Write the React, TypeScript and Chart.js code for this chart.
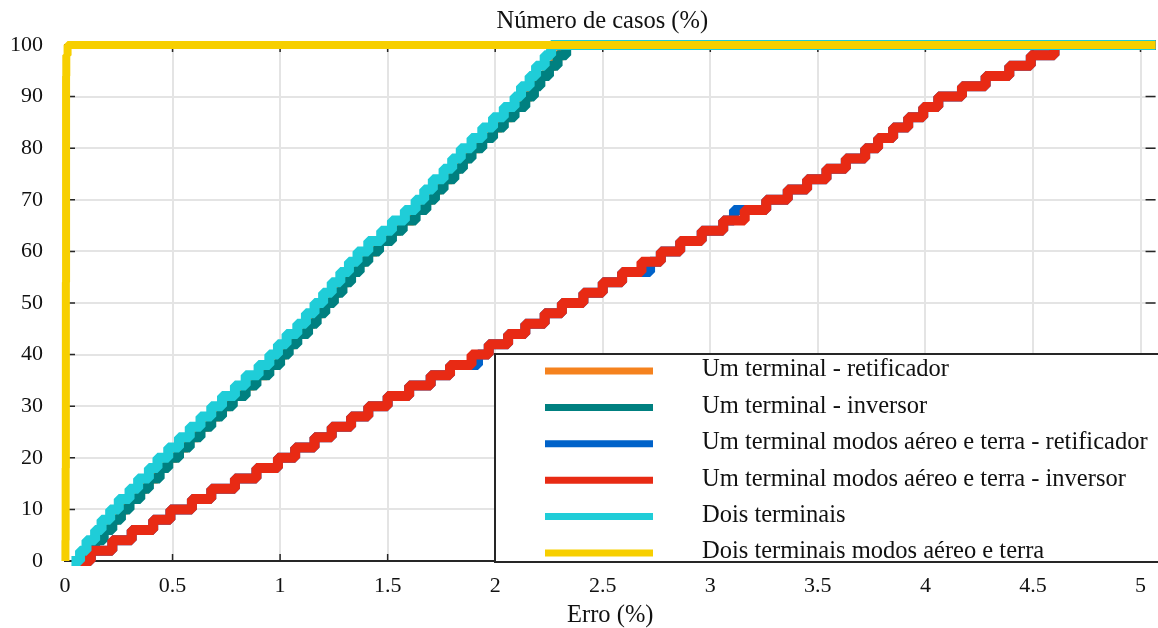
import React, { useEffect, useRef } from "react";
import { Chart, registerables } from "chart.js";

Chart.register(...registerables);

// Cumulative share of cases (%) for each sorted error
const CASES_PCT = [
  0, 2, 4, 6, 8, 10, 12, 14, 16, 18, 20, 22, 24, 26, 28, 30, 32, 34, 36, 38, 40,
  42, 44, 46, 48, 50, 52, 54, 56, 58, 60, 62, 64, 66, 68, 70, 72, 74, 76, 78, 80,
  82, 84, 86, 88, 90, 92, 94, 96, 98, 100,
];

// Errors (%) per configuration
const ERR_UM_RET = [
  0.04, 0.09, 0.13, 0.17, 0.21, 0.25, 0.29, 0.34, 0.38, 0.43, 0.47, 0.52, 0.57,
  0.62, 0.67, 0.72, 0.77, 0.83, 0.88, 0.94, 0.99, 1.03, 1.07, 1.12, 1.16, 1.2,
  1.24, 1.28, 1.32, 1.36, 1.4, 1.45, 1.51, 1.56, 1.62, 1.67, 1.71, 1.75, 1.8,
  1.84, 1.88, 1.93, 1.98, 2.03, 2.08, 2.13, 2.17, 2.2, 2.24, 2.28, 2.32,
];
const ERR_UM_INV = [
  0.05, 0.1, 0.14, 0.18, 0.22, 0.26, 0.3, 0.35, 0.39, 0.44, 0.48, 0.53, 0.58,
  0.63, 0.68, 0.73, 0.78, 0.84, 0.89, 0.95, 1.0, 1.04, 1.08, 1.13, 1.17, 1.21,
  1.25, 1.29, 1.33, 1.37, 1.41, 1.46, 1.52, 1.57, 1.63, 1.68, 1.72, 1.76, 1.81,
  1.85, 1.89, 1.94, 1.99, 2.04, 2.09, 2.14, 2.18, 2.21, 2.25, 2.29, 2.33,
];
const ERR_UM_AT_RET = [
  0.04, 0.12, 0.22, 0.31, 0.41, 0.49, 0.59, 0.68, 0.79, 0.89, 0.99, 1.07, 1.16,
  1.24, 1.33, 1.41, 1.5, 1.6, 1.7, 1.79, 1.92, 1.97, 2.06, 2.14, 2.23, 2.31,
  2.41, 2.5, 2.59, 2.72, 2.77, 2.86, 2.96, 3.06, 3.11, 3.26, 3.36, 3.45, 3.54,
  3.63, 3.72, 3.78, 3.85, 3.92, 3.99, 4.06, 4.17, 4.28, 4.39, 4.49, 4.6,
];
const ERR_UM_AT_INV = [
  0.04, 0.12, 0.22, 0.31, 0.41, 0.49, 0.59, 0.68, 0.79, 0.89, 0.99, 1.07, 1.16,
  1.24, 1.33, 1.41, 1.5, 1.6, 1.7, 1.79, 1.89, 1.97, 2.06, 2.14, 2.23, 2.31,
  2.41, 2.5, 2.59, 2.68, 2.77, 2.86, 2.96, 3.06, 3.16, 3.26, 3.36, 3.45, 3.54,
  3.63, 3.72, 3.78, 3.85, 3.92, 3.99, 4.06, 4.17, 4.28, 4.39, 4.49, 4.6,
];
const ERR_DOIS = [
  0.03, 0.07, 0.1, 0.14, 0.17, 0.21, 0.25, 0.3, 0.34, 0.39, 0.43, 0.48, 0.53,
  0.58, 0.63, 0.68, 0.73, 0.79, 0.84, 0.9, 0.95, 0.99, 1.03, 1.08, 1.12, 1.16,
  1.2, 1.24, 1.28, 1.32, 1.36, 1.41, 1.47, 1.52, 1.58, 1.63, 1.67, 1.71, 1.76,
  1.8, 1.84, 1.89, 1.94, 1.99, 2.04, 2.09, 2.12, 2.16, 2.19, 2.23, 2.26,
];
const ERR_DOIS_AT = [
  0.002, 0.002, 0.002, 0.003, 0.003, 0.003, 0.003, 0.003, 0.003, 0.003, 0.004,
  0.004, 0.004, 0.004, 0.004, 0.004, 0.004, 0.004, 0.004, 0.004, 0.004, 0.004,
  0.004, 0.004, 0.004, 0.004, 0.004, 0.004, 0.005, 0.005, 0.005, 0.005, 0.005,
  0.005, 0.005, 0.005, 0.005, 0.005, 0.005, 0.005, 0.005, 0.005, 0.005, 0.005,
  0.005, 0.005, 0.005, 0.005, 0.006, 0.006, 0.012,
];

const SERIES_LABELS = [
  "Um terminal - retificador",
  "Um terminal - inversor",
  "Um terminal modos aéreo e terra - retificador",
  "Um terminal modos aéreo e terra - inversor",
  "Dois terminais",
  "Dois terminais modos aéreo e terra",
];
const SERIES_ERRORS = [ERR_UM_RET, ERR_UM_INV, ERR_UM_AT_RET, ERR_UM_AT_INV, ERR_DOIS, ERR_DOIS_AT];
const SERIES_COLORS = ["#F5821E", "#008080", "#0062C9", "#E82A14", "#1FCDD8", "#F7CF00"];
const SERIES_WIDTHS = [10, 10, 10, 10, 10, 8];

const X_TICKS = [0, 0.5, 1, 1.5, 2, 2.5, 3, 3.5, 4, 4.5, 5];
const X_TICK_LABELS = ["0", "0.5", "1", "1.5", "2", "2.5", "3", "3.5", "4", "4.5", "5"];
const Y_TICKS = [0, 10, 20, 30, 40, 50, 60, 70, 80, 90, 100];
const X_MAX = 5.07;
const Y_MAX = 100;

const TITLE = "Número de casos (%)";
const X_TITLE = "Erro (%)";

const FONT_FAMILY = "'Liberation Serif', 'DejaVu Serif', serif";
const TICK_FONT_SIZE = 22;
const TEXT_FONT_SIZE = 24.5;
const TEXT_COLOR = "#111111";
const AXIS_COLOR = "#262626";
const GRID_COLOR = "#e4e4e4";

const W = 1158;
const H = 628;

const framePlugin = {
  id: "frameTicks",
  beforeDatasetsDraw(chart: any) {
    const { ctx, chartArea: ca, scales } = chart;
    const xs = scales.x;
    const ys = scales.y;
    ctx.save();
    ctx.strokeStyle = AXIS_COLOR;
    ctx.lineWidth = 1.5;
    ctx.beginPath();
    for (const v of X_TICKS) {
      const px = xs.getPixelForValue(v);
      ctx.moveTo(px, ca.bottom);
      ctx.lineTo(px, ca.bottom - 7);
      ctx.moveTo(px, ca.top);
      ctx.lineTo(px, ca.top + 7);
    }
    for (const v of Y_TICKS) {
      const py = ys.getPixelForValue(v);
      ctx.moveTo(ca.left, py);
      ctx.lineTo(ca.left + 10, py);
      ctx.moveTo(ca.right, py);
      ctx.lineTo(ca.right - 10, py);
    }
    ctx.stroke();
    ctx.lineWidth = 2;
    ctx.beginPath();
    ctx.moveTo(ca.left, ca.top);
    ctx.lineTo(ca.right, ca.top);
    ctx.stroke();
    ctx.restore();
  },
  afterDraw(chart: any) {
    const { ctx, chartArea: ca } = chart;
    ctx.save();
    ctx.fillStyle = TEXT_COLOR;
    ctx.font = `${TEXT_FONT_SIZE}px ${FONT_FAMILY}`;
    ctx.textAlign = "center";
    ctx.textBaseline = "middle";
    ctx.fillText(TITLE, (ca.left + ca.right) / 2 - 8, ca.top - 23);
    ctx.restore();
  },
};

const legendPlugin = {
  id: "boxLegend",
  afterDraw(chart: any) {
    const { ctx, chartArea: ca } = chart;
    const left = 495;
    const top = 354;
    const right = ca.right + 10;
    const bottom = ca.bottom + 1;
    ctx.save();
    ctx.fillStyle = "#ffffff";
    ctx.fillRect(left, top, right - left, bottom - top);
    ctx.strokeStyle = AXIS_COLOR;
    ctx.lineWidth = 2;
    ctx.strokeRect(left, top, right - left, bottom - top);
    ctx.font = `${TEXT_FONT_SIZE}px ${FONT_FAMILY}`;
    ctx.textAlign = "left";
    ctx.textBaseline = "middle";
    chart.data.datasets.forEach((ds: any, i: number) => {
      const yy = top + 17 + i * 36.4;
      ctx.strokeStyle = ds.borderColor;
      ctx.lineWidth = 7;
      ctx.lineCap = "butt";
      ctx.beginPath();
      ctx.moveTo(545, yy);
      ctx.lineTo(653, yy);
      ctx.stroke();
      ctx.fillStyle = TEXT_COLOR;
      ctx.fillText(ds.label, 702, yy - 1);
    });
    ctx.restore();
  },
};

export default function App() {
  const ref = useRef<HTMLCanvasElement | null>(null);

  useEffect(() => {
    if (!ref.current) return;
    const datasets = SERIES_LABELS.map((label, i) => {
      const pts = SERIES_ERRORS[i].map((e, k) => ({ x: e, y: CASES_PCT[k] }));
      pts.push({ x: X_MAX, y: Y_MAX });
      return {
        label,
        data: pts,
        borderColor: SERIES_COLORS[i],
        backgroundColor: SERIES_COLORS[i],
        borderWidth: SERIES_WIDTHS[i],
        pointRadius: 0,
        stepped: "before" as const,
        fill: false,
        borderJoinStyle: "bevel" as const,
        clip: false as any,
        order: SERIES_LABELS.length - i,
      };
    });

    const chart = new Chart(ref.current, {
      type: "line",
      data: { datasets },
      plugins: [framePlugin, legendPlugin],
      options: {
        animation: false,
        responsive: false,
        devicePixelRatio: 1,
        layout: { padding: { top: 45, left: 0, right: 0, bottom: 0 } },
        plugins: {
          legend: { display: false },
          tooltip: { enabled: false },
          title: { display: false },
        },
        scales: {
          x: {
            type: "linear",
            min: 0,
            max: X_MAX,
            afterFit: (s: any) => {
              s.height = 67;
            },
            afterBuildTicks: (s: any) => {
              s.ticks = X_TICKS.map((v) => ({ value: v }));
            },
            ticks: {
              padding: 12,
              color: TEXT_COLOR,
              font: { family: FONT_FAMILY, size: TICK_FONT_SIZE },
              maxRotation: 0,
              autoSkip: false,
              callback: (_v: any, i: number) => X_TICK_LABELS[i],
            },
            grid: { color: GRID_COLOR, lineWidth: 2, drawTicks: false },
            border: { display: true, color: AXIS_COLOR, width: 2 },
            title: {
              display: true,
              text: X_TITLE,
              color: TEXT_COLOR,
              font: { family: FONT_FAMILY, size: TEXT_FONT_SIZE, lineHeight: 1 },
              padding: { top: 0, bottom: 0 },
            },
          },
          y: {
            type: "linear",
            min: 0,
            max: Y_MAX,
            afterFit: (s: any) => {
              s.width = 65;
            },
            afterBuildTicks: (s: any) => {
              s.ticks = Y_TICKS.map((v) => ({ value: v }));
            },
            ticks: {
              padding: 22,
              color: TEXT_COLOR,
              font: { family: FONT_FAMILY, size: TICK_FONT_SIZE },
              autoSkip: false,
              callback: (v: any) => String(v),
            },
            grid: { color: GRID_COLOR, lineWidth: 2, drawTicks: false },
            border: { display: true, color: AXIS_COLOR, width: 2 },
          },
        },
      },
    });
    return () => chart.destroy();
  }, []);

  return (
    <div style={{ position: "absolute", left: 0, top: 0, width: W, height: H, background: "#fff" }}>
      <canvas ref={ref} width={W} height={H} style={{ display: "block" }} />
    </div>
  );
}
